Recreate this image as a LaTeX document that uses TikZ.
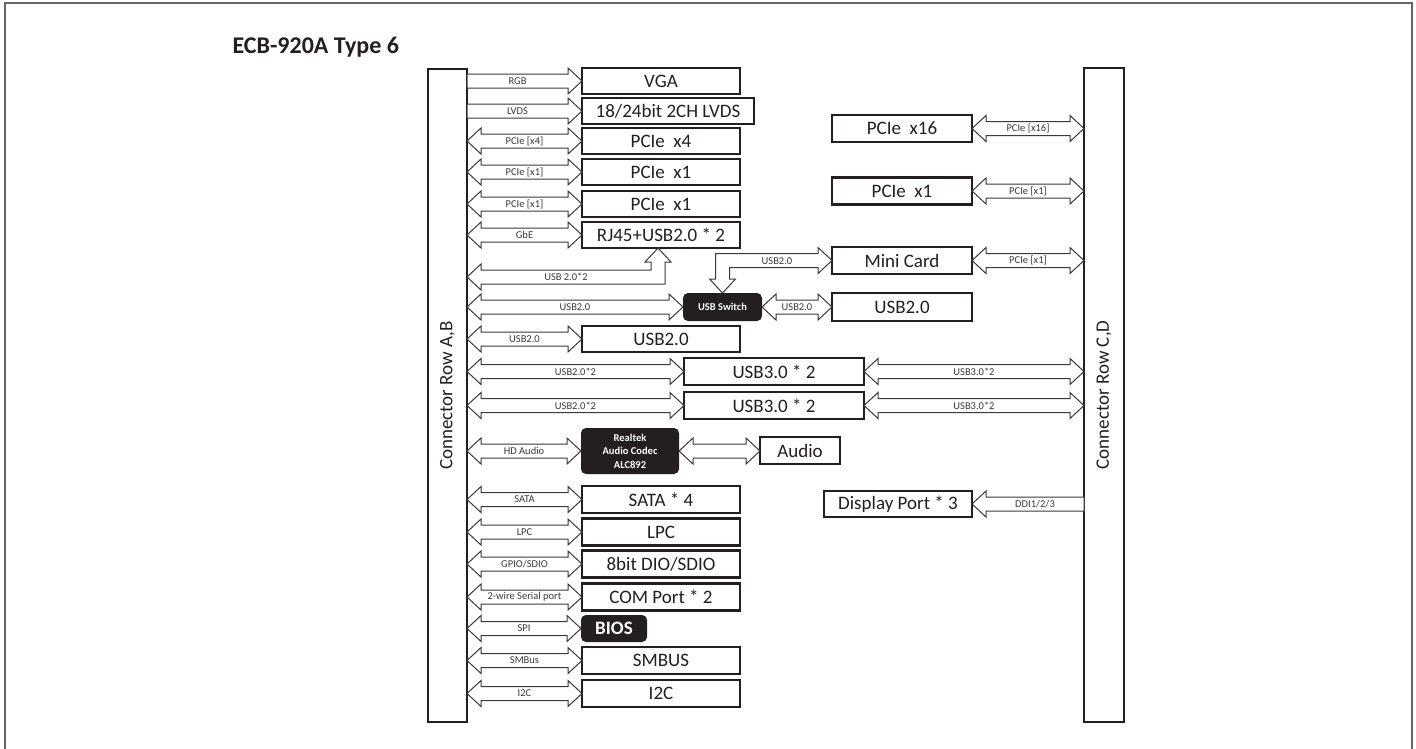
\documentclass[tikz,border=0pt]{standalone}
\usepackage{fontspec}
\setmainfont{Carlito}
\usetikzlibrary{calc}
\definecolor{ink}{HTML}{231F20}
\definecolor{aline}{HTML}{3A3A3A}
\def\ahl{14pt}\def\ahw{13pt}\def\asw{7pt}
\tikzset{
 bx/.style={draw=ink, line width=2.5pt, fill=white, inner sep=0pt, outer sep=0pt, font=\fontsize{19}{22}\selectfont, text=ink},
 dk/.style={fill=ink, rounded corners=5pt, inner sep=0pt, outer sep=0pt, text=white, font=\bfseries\fontsize{10.5}{13.5}\selectfont, align=center},
 bar/.style={draw=ink, line width=2.5pt, inner sep=0pt, outer sep=0pt},
 arr/.style={draw=aline, line width=1pt, fill=white, line join=miter},
 lbl/.style={font=\fontsize{10.5}{12}\selectfont, text=aline, inner sep=0pt},
}
% double-headed horizontal block arrow from #1 to #2
\newcommand\DA[3]{\path[arr] let \p1=(#1), \p2=(#2) in
 (\x1,\y1) -- (\x1+\ahl,\y1+\ahw) -- (\x1+\ahl,\y1+\asw) -- (\x2-\ahl,\y1+\asw) -- (\x2-\ahl,\y1+\ahw) -- (\x2,\y1)
 -- (\x2-\ahl,\y1-\ahw) -- (\x2-\ahl,\y1-\asw) -- (\x1+\ahl,\y1-\asw) -- (\x1+\ahl,\y1-\ahw) -- cycle
 (\x1/2+\x2/2,\y1) node[lbl]{#3};}
% single-headed, head at right end #2
\newcommand\SAR[3]{\path[arr] let \p1=(#1), \p2=(#2) in
 (\x1,\y1+\asw) -- (\x2-\ahl,\y1+\asw) -- (\x2-\ahl,\y1+\ahw) -- (\x2,\y1)
 -- (\x2-\ahl,\y1-\ahw) -- (\x2-\ahl,\y1-\asw) -- (\x1,\y1-\asw) -- cycle
 (\x1/2+\x2/2-\ahl/2,\y1) node[lbl]{#3};}
% single-headed, head at left end #2 (#1 is right)
\newcommand\SAL[3]{\path[arr] let \p1=(#1), \p2=(#2) in
 (\x1,\y1+\asw) -- (\x2+\ahl,\y1+\asw) -- (\x2+\ahl,\y1+\ahw) -- (\x2,\y1)
 -- (\x2+\ahl,\y1-\ahw) -- (\x2+\ahl,\y1-\asw) -- (\x1,\y1-\asw) -- cycle
 (\x1/2+\x2/2+\ahl/2,\y1) node[lbl]{#3};}
\begin{document}
\begin{tikzpicture}[x=1pt,y=-1pt]
\useasboundingbox (0,0) rectangle (1416,748);
\draw[black!60, line width=1.5pt] (5,3) rectangle (1412,760);
\node[anchor=west, font=\bfseries\fontsize{24}{28}\selectfont, text=ink] (title) at (229,47) {ECB-920A Type 6};
% connector bars
\node[bar, minimum width=39pt, minimum height=653pt] (barL) at (447.5,395.5) {};
\node[rotate=90, font=\fontsize{19}{22}\selectfont, text=ink] (tL) at (barL.center) {Connector Row A,B};
\node[bar, minimum width=40pt, minimum height=654pt] (barR) at (1104,395) {};
\node[rotate=90, font=\fontsize{19}{22}\selectfont, text=ink] (tR) at (barR.center) {Connector Row C,D};
% left column boxes
\node[bx, minimum width=158pt, minimum height=26pt] (vga) at (661,81) {VGA};
\node[bx, minimum width=172pt, minimum height=26pt] (lvds) at (668,111) {18/24bit 2CH LVDS};
\node[bx, minimum width=158pt, minimum height=26pt] (p4) at (661,141) {PCIe~ x4};
\node[bx, minimum width=158pt, minimum height=26pt] (p1a) at (661,172) {PCIe~ x1};
\node[bx, minimum width=158pt, minimum height=26pt] (p1b) at (661,204) {PCIe~ x1};
\node[bx, minimum width=158pt, minimum height=26pt] (rj) at (661,235) {RJ45+USB2.0 * 2};
\node[dk, minimum width=79pt, minimum height=28pt] (sw) at (722.5,307) {USB Switch};
\node[bx, minimum width=158pt, minimum height=26pt] (u2l) at (661,339) {USB2.0};
\node[bx, minimum width=180pt, minimum height=27pt] (u3a) at (774,371.5) {USB3.0 * 2};
\node[bx, minimum width=180pt, minimum height=27pt] (u3b) at (774,405.5) {USB3.0 * 2};
\node[dk, minimum width=98pt, minimum height=46pt] (rt) at (630,451) {Realtek\\Audio Codec\\ALC892};
\node[bx, minimum width=80pt, minimum height=27pt] (au) at (800,450.5) {Audio};
\node[bx, minimum width=158pt, minimum height=27pt] (sata) at (661,499.5) {SATA * 4};
\node[bx, minimum width=158pt, minimum height=27pt] (lpc) at (661,532) {LPC};
\node[bx, minimum width=158pt, minimum height=27pt] (dio) at (661,564) {8bit DIO/SDIO};
\node[bx, minimum width=158pt, minimum height=27pt] (com) at (661,597) {COM Port * 2};
\node[dk, minimum width=66pt, minimum height=27pt, font=\bfseries\fontsize{19}{22}\selectfont] (bios) at (614,628.5) {BIOS};
\node[bx, minimum width=158pt, minimum height=27pt] (smb) at (661,660.5) {SMBUS};
\node[bx, minimum width=158pt, minimum height=27pt] (i2c) at (661,693.5) {I2C};
% right column boxes
\node[bx, minimum width=140pt, minimum height=27pt] (p16) at (902,128.5) {PCIe~ x16};
\node[bx, minimum width=140pt, minimum height=27pt] (p1r) at (902,191) {PCIe~ x1};
\node[bx, minimum width=140pt, minimum height=27pt] (mini) at (902,260.5) {Mini Card};
\node[bx, minimum width=140pt, minimum height=28pt] (u2r) at (902,307) {USB2.0};
\node[bx, minimum width=148pt, minimum height=26pt] (dp) at (898,504) {Display Port * 3};
% arrows left
\SAR{barL.east|-vga.west}{vga.west}{RGB}
\SAR{barL.east|-lvds.west}{lvds.west}{LVDS}
\DA{barL.east|-p4.west}{p4.west}{PCIe [x4]}
\DA{barL.east|-p1a.west}{p1a.west}{PCIe [x1]}
\DA{barL.east|-p1b.west}{p1b.west}{PCIe [x1]}
\DA{barL.east|-rj.west}{rj.west}{GbE}
\DA{barL.east|-sw.west}{sw.west}{USB2.0}
\DA{sw.east}{u2r.west}{USB2.0}
\DA{barL.east|-u2l.west}{u2l.west}{USB2.0}
\DA{barL.east|-u3a.west}{u3a.west}{USB2.0*2}
\DA{barL.east|-u3b.west}{u3b.west}{USB2.0*2}
\DA{u3a.east}{barR.west|-u3a.east}{USB3.0*2}
\DA{u3b.east}{barR.west|-u3b.east}{USB3.0*2}
\DA{barL.east|-rt.west}{rt.west}{HD Audio}
\DA{rt.east}{au.west|-rt.east}{}
\DA{barL.east|-sata.west}{sata.west}{SATA}
\DA{barL.east|-lpc.west}{lpc.west}{LPC}
\DA{barL.east|-dio.west}{dio.west}{GPIO/SDIO}
\DA{barL.east|-com.west}{com.west}{2-wire Serial port}
\DA{barL.east|-bios.west}{bios.west}{SPI}
\DA{barL.east|-smb.west}{smb.west}{SMBus}
\DA{barL.east|-i2c.west}{i2c.west}{I2C}
% arrows right
\DA{p16.east}{barR.west|-p16.east}{PCIe [x16]}
\DA{p1r.east}{barR.west|-p1r.east}{PCIe [x1]}
\DA{mini.east}{barR.west|-mini.east}{PCIe [x1]}
\SAL{barR.west|-dp.east}{dp.east}{DDI1/2/3}
% L-shaped: bar <-> RJ45 bottom
\coordinate (lu) at (barL.east|-0,277);
\path[arr] let \p1=(lu), \p2=(rj.south) in
 (\x1,\y1) -- (\x1+\ahl,\y1+\ahw) -- (\x1+\ahl,\y1+\asw) -- (\x2-\asw-3pt,\y1+\asw) -- (\x2-\asw-3pt,\y2-\ahl)
 -- (\x2-\ahw-3pt,\y2-\ahl) -- (\x2-3pt,\y2) -- (\x2+\ahw-3pt,\y2-\ahl) -- (\x2+\asw-3pt,\y2-\ahl)
 -- (\x2+\asw-3pt,\y1-\asw) -- (\x1+\ahl,\y1-\asw) -- (\x1+\ahl,\y1-\ahw) -- cycle
 (566,277) node[lbl]{USB 2.0*2};
% L-shaped: Mini Card <-> USB switch top
\path[arr] let \p1=(mini.west), \p2=(sw.north) in
 (\x1,\y1) -- (\x1-\ahl,\y1+\ahw) -- (\x1-\ahl,\y1+\asw) -- (\x2-\asw,\y1+\asw) -- (\x2-\asw,\y2+\ahl)
 -- (\x2-\ahw,\y2+\ahl) -- (\x2,\y2) -- (\x2+\ahw,\y2+\ahl) -- (\x2+\asw,\y2+\ahl)
 -- (\x2+\asw,\y1-\asw) -- (\x1-\ahl,\y1-\asw) -- (\x1-\ahl,\y1-\ahw) -- cycle
 (777,261) node[lbl]{USB2.0};
\end{tikzpicture}
\end{document}
